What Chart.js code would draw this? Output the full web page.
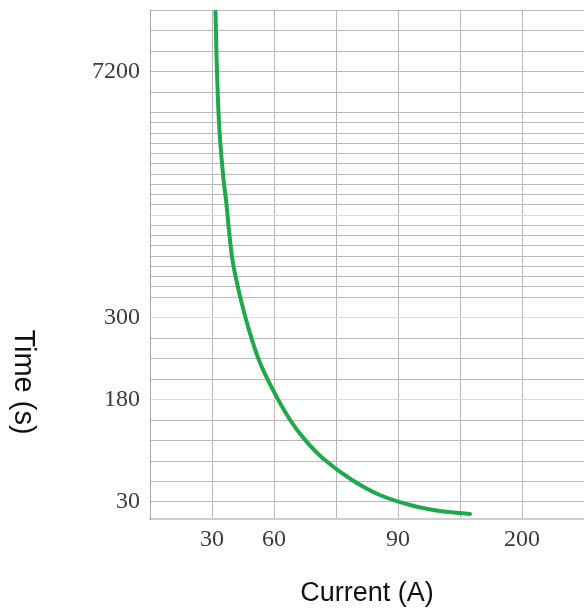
<!DOCTYPE html>
<html lang="en">
<head>
    <meta charset="UTF-8" />
    <title>Time-current curve</title>
    <script src="https://cdn.jsdelivr.net/npm/chart.js"></script>
    <style>
        html, body { margin: 0; padding: 0; background: #fff; overflow: hidden; }
        .wrap { position: relative; width: 584px; height: 610px; }
        canvas { display: block; }
        /* y title reads top to bottom, so it lives outside the canvas */
        .y-title {
            position: absolute;
            left: 24px;
            top: 382px;
            transform: translate(-50%, -50%);
            writing-mode: vertical-rl;
            font: 29px "Liberation Sans", Arial, sans-serif;
            color: #111;
            white-space: nowrap;
        }
    </style>
</head>
<body>
<div class="wrap">
    <canvas id="curve"></canvas>
    <div class="y-title">Time (s)</div>
</div>
<script>
// tick labels of the printed sheet
const xTicks = [30, 60, 90, 200];
const yTicks = [30, 180, 300, 7200];

// points
const currentA = [31.7, 32.4, 33.6, 35.6, 36.8, 38.2, 39.9, 42.1, 44.0, 47.9, 52.7, 59.5, 63.9, 67.5, 72.3, 78.9, 85.6, 100.7, 127.2, 153.9];
const timeS    = [8880, 7240, 5560, 4155, 3595, 2755, 1913, 1269, 792, 282, 238, 194, 150, 121, 91.5, 62.2, 40.2, 25.6, 16.8, 12.4];

// the sheet is not evenly scaled: where each tick sits, in grid units
const xTickAt = [1, 2, 4, 6];
const yTickAt = [0, 10, 18, 42];

function toGrid(v, vals, at) {
    let i = 0;
    while (i < vals.length - 2 && v > vals[i + 1]) i++;
    return at[i] + (v - vals[i]) * (at[i + 1] - at[i]) / (vals[i + 1] - vals[i]);
}

const points = currentA.map((a, i) => ({
    x: toGrid(a, xTicks, xTickAt),
    y: toGrid(timeS[i], yTicks, yTickAt)
}));

// horizontal rulings: coarse, then fine, then coarse again
const yGrid = [];
for (let u = 0; u <= 20; u += 2) yGrid.push(u);
for (let u = 21; u <= 38; u++) yGrid.push(u);
for (let u = 40; u <= 48; u += 2) yGrid.push(u);
const pinkRows = [10, 18, 28];

const serif = '"Liberation Serif", "Times New Roman", serif';
const gridGray = '#b8b8b8';

new Chart(document.getElementById('curve'), {
    type: 'line',
    data: {
        datasets: [{
            data: points,
            borderColor: '#1fa94a',
            borderWidth: 4,
            borderCapStyle: 'round',
            pointRadius: 0,
            tension: 0.4,
            fill: false
        }]
    },
    options: {
        responsive: true,
        maintainAspectRatio: false,
        animation: false,
        layout: { padding: { top: 10, right: 0, left: 0, bottom: 0 } },
        plugins: { legend: { display: false }, tooltip: { enabled: false } },
        scales: {
            x: {
                type: 'linear',
                min: 0,
                max: 7,
                afterBuildTicks: axis => { axis.ticks = [0, 1, 2, 3, 4, 5, 6, 7].map(v => ({ value: v })); },
                afterFit: axis => { axis.height = 91; },
                grid: { color: gridGray, lineWidth: 1, drawTicks: false },
                border: { color: '#d0d0d0', width: 2 },
                ticks: {
                    padding: 0,
                    maxRotation: 0,
                    autoSkip: false,
                    color: '#3a3a3a',
                    font: { family: serif, size: 24, lineHeight: 1.75 },
                    callback: v => {
                        const i = xTickAt.indexOf(v);
                        return i >= 0 ? String(xTicks[i]) : '';
                    }
                },
                title: {
                    display: true,
                    text: 'Current (A)',
                    color: '#111',
                    font: { family: '"Liberation Sans", Arial, sans-serif', size: 27 },
                    padding: { top: 0, bottom: 0 }
                }
            },
            y: {
                type: 'linear',
                min: -1.66,
                max: 48,
                afterBuildTicks: axis => { axis.ticks = yGrid.map(v => ({ value: v })); },
                afterFit: axis => { axis.width = 150; },
                grid: {
                    color: c => pinkRows.includes(c.tick.value) ? '#e9cfe9' : gridGray,
                    lineWidth: 1,
                    drawTicks: false
                },
                border: { color: '#a8a8a8', width: 1 },
                ticks: {
                    padding: 10,
                    autoSkip: false,
                    color: '#3a3a3a',
                    // tiny line height so the labels do not push the plot down
                    font: { family: serif, size: 24, lineHeight: 0.01 },
                    callback: v => {
                        const i = yTickAt.indexOf(v);
                        return i >= 0 ? String(yTicks[i]) : '';
                    }
                }
            }
        }
    }
});
</script>
</body>
</html>
